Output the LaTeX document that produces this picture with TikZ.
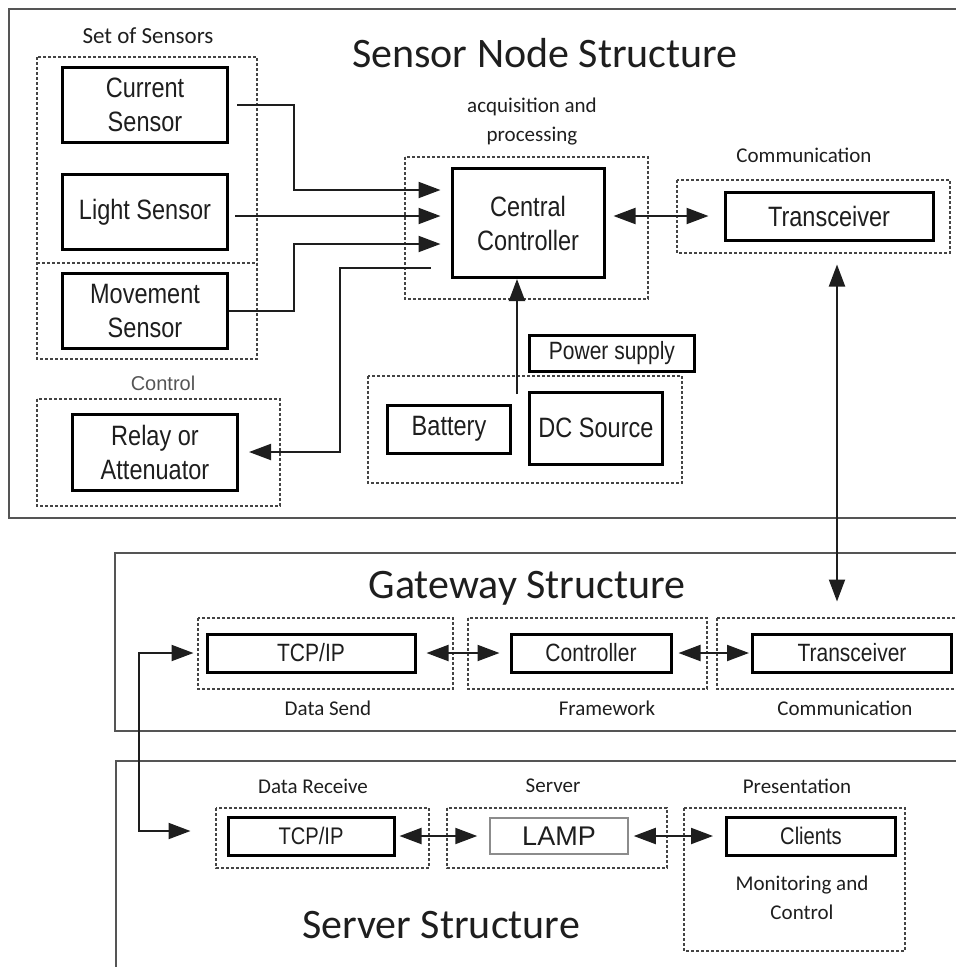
\documentclass[tikz,border=0pt]{standalone}
\usepackage{fontspec}
\setmainfont{Carlito}
\newfontfamily\narrowfont[FakeStretch=0.84]{Liberation Sans}
\newfontfamily\arialfont{Liberation Sans}
\usetikzlibrary{calc}
\usetikzlibrary{arrows.meta}
\definecolor{FrameGray}{HTML}{555555}
\definecolor{DashGray}{HTML}{444444}
\definecolor{TextGray}{HTML}{1E1E1E}

\begin{document}
\begin{tikzpicture}[x=1pt, y=-1pt,
  >={Triangle[length=22pt,width=16pt]},
  outerbox/.style={draw=FrameGray, line width=2pt},
  dashgroup/.style={draw=DashGray, line width=1.3pt, dash pattern=on 3pt off 2pt},
  block/.style={draw, line width=3pt, inner sep=0pt, align=center, text=TextGray,
    font=\narrowfont\fontsize{28}{34}\selectfont},
  gwblock/.style={block, font=\narrowfont\fontsize{25}{30}\selectfont},
  srvblock/.style={block, font=\narrowfont\fontsize{24}{29}\selectfont},
  captiontext/.style={align=center, text=TextGray, font=\fontsize{21}{29}\selectfont},
  heading/.style={anchor=base, text=TextGray, font=\fontsize{42}{50}\selectfont},
  wire/.style={line width=2pt, draw=TextGray}]

  \useasboundingbox (0,0) rectangle (956,967);
  \clip (0,0) rectangle (956,967);

  % the three structures, open to the right
  \draw[outerbox] (9,9) rectangle (975,518);
  \draw[outerbox] (115,553) rectangle (975,731);
  \draw[outerbox] (116,761) rectangle (975,995);

  \node[heading] (snhead) at (545,67) {Sensor Node Structure};
  \node[heading] (gwhead) at (527,598) {Gateway Structure};
  \node[heading] (srvhead) at (441,938) {Server Structure};

  % dashed groups
  \foreach \xa/\ya/\xb/\yb in {37/57/257/359, 37/399/280/506, 405/157/648/299,
      677/180/950/253, 368/376/682/483, 198/618/453/689, 468/618/707/689,
      717/618/975/689, 216/808/429/868, 447/808/667/868, 684/808/905/951}
    \draw[dashgroup] (\xa,\ya) rectangle (\xb,\yb);
  \draw[dashgroup] (37,263) -- (257,263);

  % group captions
  \node[captiontext, font=\fontsize{23}{29}\selectfont] (setcap) at (148,36) {Set of Sensors};
  \node[captiontext] (acqcap) at (532,122) {acquisition and\\processing};
  \node[captiontext] (commcap) at (804,155) {Communication};
  \node[text=FrameGray, font=\arialfont\fontsize{20}{24}\selectfont] (ctlcap) at (163,383) {Control};
  \node[captiontext] (sendcap) at (328,708) {Data Send};
  \node[captiontext] (fwcap) at (607,708) {Framework};
  \node[captiontext] (gwcommcap) at (845,708) {Communication};
  \node[captiontext] (recvcap) at (313,786) {Data Receive};
  \node[captiontext] (servcap) at (553,786) {Server};
  \node[captiontext] (prescap) at (797,786) {Presentation};
  \node[captiontext] (moncap) at (802,898) {Monitoring and\\Control};

  % sensor node
  \node[block, minimum width=165pt, minimum height=75pt] (cur) at (145,105) {Current\\Sensor};
  \node[block, minimum width=165pt, minimum height=75pt] (light) at (145,212) {Light Sensor};
  \node[block, minimum width=165pt, minimum height=75pt] (move) at (145,311) {Movement\\Sensor};
  \node[block, minimum width=165pt, minimum height=76pt] (relay) at (155,452) {Relay or\\Attenuator};
  \node[block, minimum width=152pt, minimum height=109pt] (ctrl) at (528,223) {Central\\Controller};
  \node[block, minimum width=208pt, minimum height=48pt] (trx) at (829,216) {Transceiver};
  \node[block, minimum width=165pt, minimum height=36pt,
    font=\narrowfont\fontsize{25}{30}\selectfont] (psu) at (612,353) {Power supply};
  \node[block, minimum width=123pt, minimum height=48pt] (bat) at (449,429) {Battery};
  \node[block, minimum width=133pt, minimum height=72pt] (dc) at (596,428) {DC Source};

  % gateway
  \node[gwblock, minimum width=208pt, minimum height=38pt] (gwtcp) at (311,653) {TCP/IP};
  \node[gwblock, minimum width=160pt, minimum height=38pt] (gwctrl) at (591,653) {Controller};
  \node[gwblock, minimum width=199pt, minimum height=38pt] (gwtrx) at (852,653) {Transceiver};

  % server
  \node[srvblock, minimum width=166pt, minimum height=38pt] (srvtcp) at (311,836) {TCP/IP};
  \node[draw=black!45, line width=1.5pt, inner sep=0pt, minimum width=138pt, minimum height=36pt,
    text=TextGray, font=\arialfont\fontsize{27}{32}\selectfont] (lamp) at (559,836) {LAMP};
  \node[srvblock, minimum width=169pt, minimum height=38pt] (clients) at (811,836) {Clients};

  % connectors
  \draw[wire,->,shorten >=10pt] ([xshift=8pt]cur.east) -- ++(57,0) |- ($(ctrl.west)+(0,-33)$);
  \draw[wire,->,shorten >=10pt] ($(light.east)+(6,4)$) -- ($(light.east -| ctrl.west)+(0,4)$);
  \draw[wire,->,shorten >=10pt] (move.east) -- ++(65,0) |- ($(ctrl.west)+(0,21)$);
  \draw[wire,->,shorten >=10pt] ($(ctrl.west)+(-20,45)$) -- ++(-91,0) |- (relay.east);
  \draw[wire,<->,shorten <=8pt,shorten >=15pt] (trx.west -| ctrl.east) -- (trx.west);

  \coordinate (pwrup) at (517,394);
  \draw[wire,->] (pwrup) -- (pwrup |- ctrl.south);

  \coordinate (link) at ($(trx.south)+(8,0)$);
  \draw[wire,<->,shorten <=23pt,shorten >=31pt] (link) -- (link |- gwtrx.north);

  \draw[wire,<->,shorten <=10pt,shorten >=10pt] (gwtcp.east) -- (gwctrl.west);
  \draw[wire,<->,shorten <=6pt,shorten >=2pt] (gwctrl.east) -- (gwtrx.west);
  \draw[wire,<->,shorten <=12pt,shorten >=36pt] (gwtcp.west) -- ++(-67,0) |- ($(srvtcp.west)+(0,-5)$);

  \draw[wire,<->,shorten <=4pt,shorten >=12pt] (srvtcp.east) -- (lamp.west);
  \draw[wire,<->,shorten <=5pt,shorten >=12pt] (lamp.east) -- (clients.west);
\end{tikzpicture}
\end{document}
